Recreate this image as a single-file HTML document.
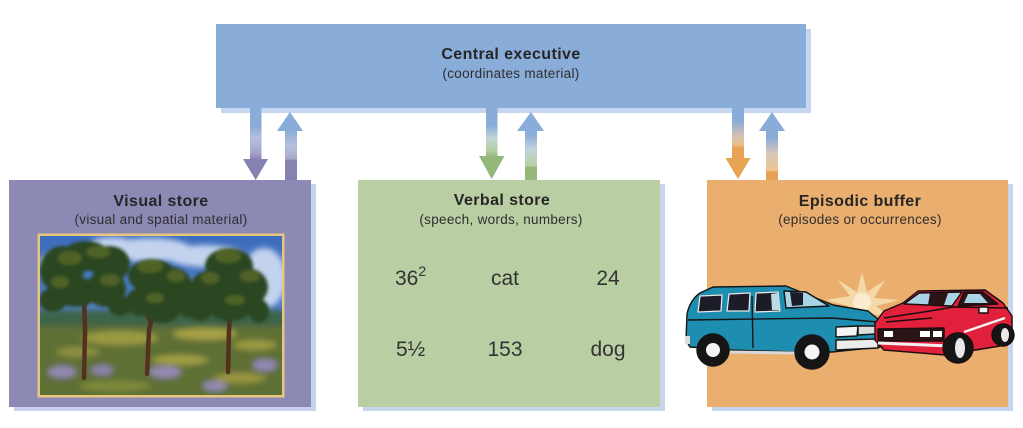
<!DOCTYPE html>
<html>
<head>
<meta charset="utf-8">
<style>
  html,body{margin:0;padding:0;background:#ffffff;}
  body{width:1023px;height:428px;overflow:hidden;}
  svg{display:block;}
  .t{font-family:"Liberation Sans",sans-serif;font-weight:bold;font-size:16px;letter-spacing:0.4px;fill:#262626;}
  .s{font-family:"Liberation Sans",sans-serif;font-size:13.5px;letter-spacing:0.3px;fill:#2e2e2e;}
  .n{font-family:"Liberation Sans",sans-serif;font-size:21px;fill:#333333;}
</style>
</head>
<body>
<svg width="1023" height="428" viewBox="0 0 1023 428" xmlns="http://www.w3.org/2000/svg">
  <defs>
    <linearGradient id="dP" gradientUnits="userSpaceOnUse" x1="0" y1="108" x2="0" y2="180">
      <stop offset="0" stop-color="#8aacd8"/>
      <stop offset="0.25" stop-color="#8aacd8"/>
      <stop offset="0.42" stop-color="#b5c1de"/>
      <stop offset="0.62" stop-color="#a6a4cc"/>
      <stop offset="0.72" stop-color="#8581b0"/>
      <stop offset="1" stop-color="#8581b0"/>
    </linearGradient>
    <linearGradient id="uP" gradientUnits="userSpaceOnUse" x1="0" y1="112" x2="0" y2="180">
      <stop offset="0" stop-color="#8aacd8"/>
      <stop offset="0.28" stop-color="#8aacd8"/>
      <stop offset="0.5" stop-color="#b7c0dc"/>
      <stop offset="0.69" stop-color="#aaa8cd"/>
      <stop offset="0.71" stop-color="#8581b0"/>
      <stop offset="1" stop-color="#8581b0"/>
    </linearGradient>
    <linearGradient id="dG" gradientUnits="userSpaceOnUse" x1="0" y1="108" x2="0" y2="180">
      <stop offset="0" stop-color="#8aacd8"/>
      <stop offset="0.24" stop-color="#8aacd8"/>
      <stop offset="0.42" stop-color="#c2d4d6"/>
      <stop offset="0.6" stop-color="#b3cd9f"/>
      <stop offset="0.68" stop-color="#93b879"/>
      <stop offset="1" stop-color="#93b879"/>
    </linearGradient>
    <linearGradient id="uG" gradientUnits="userSpaceOnUse" x1="0" y1="112" x2="0" y2="180">
      <stop offset="0" stop-color="#8aacd8"/>
      <stop offset="0.33" stop-color="#8aacd8"/>
      <stop offset="0.55" stop-color="#c3d3da"/>
      <stop offset="0.79" stop-color="#b8d0a6"/>
      <stop offset="0.81" stop-color="#93b879"/>
      <stop offset="1" stop-color="#93b879"/>
    </linearGradient>
    <linearGradient id="dO" gradientUnits="userSpaceOnUse" x1="0" y1="108" x2="0" y2="180">
      <stop offset="0" stop-color="#8aacd8"/>
      <stop offset="0.18" stop-color="#8aacd8"/>
      <stop offset="0.38" stop-color="#d2c0b8"/>
      <stop offset="0.5" stop-color="#ecc08e"/>
      <stop offset="0.56" stop-color="#e8a253"/>
      <stop offset="1" stop-color="#e8a253"/>
    </linearGradient>
    <linearGradient id="uO" gradientUnits="userSpaceOnUse" x1="0" y1="112" x2="0" y2="180">
      <stop offset="0" stop-color="#8aacd8"/>
      <stop offset="0.38" stop-color="#8aacd8"/>
      <stop offset="0.6" stop-color="#d7c6bb"/>
      <stop offset="0.86" stop-color="#efc592"/>
      <stop offset="0.88" stop-color="#e8a253"/>
      <stop offset="1" stop-color="#e8a253"/>
    </linearGradient>
    <linearGradient id="sky" x1="0" y1="0" x2="0" y2="1">
      <stop offset="0" stop-color="#3c6cbd"/>
      <stop offset="1" stop-color="#6a94d4"/>
    </linearGradient>
    <filter id="soft" x="-10%" y="-10%" width="120%" height="120%">
      <feGaussianBlur stdDeviation="1.6"/>
    </filter>
    <filter id="soft2" x="-20%" y="-20%" width="140%" height="140%">
      <feGaussianBlur stdDeviation="3"/>
    </filter>
    <clipPath id="pclip"><rect x="40" y="236" width="242" height="159"/></clipPath>
  </defs>

  <!-- shadows -->
  <rect x="221" y="29" width="590" height="84" fill="#c7d6ef"/>
  <rect x="14" y="184" width="302" height="227" fill="#c7d3ec"/>
  <rect x="363" y="184" width="302" height="227" fill="#c7d6ec"/>
  <rect x="712" y="184" width="301" height="227" fill="#c7d6ee"/>

  <!-- boxes -->
  <rect x="216" y="24" width="590" height="84" fill="#8aacd8"/>
  <rect x="9" y="180" width="302" height="227" fill="#8c89b5"/>
  <rect x="358" y="180" width="302" height="227" fill="#b9cfa3"/>
  <rect x="707" y="180" width="301" height="227" fill="#eaae6f"/>

  <!-- arrows: visual -->
  <rect x="250" y="108" width="11.5" height="53" fill="url(#dP)"/>
  <polygon points="243,159 268,159 255.7,180" fill="url(#dP)"/>
  <rect x="285" y="129" width="12" height="51" fill="url(#uP)"/>
  <polygon points="277,131 303,131 290,112" fill="url(#uP)"/>

  <!-- arrows: verbal -->
  <rect x="486" y="108" width="11.5" height="50" fill="url(#dG)"/>
  <polygon points="479,156 504.5,156 491.7,179" fill="url(#dG)"/>
  <rect x="525" y="129" width="12" height="51" fill="url(#uG)"/>
  <polygon points="517,131 544,131 531,112" fill="url(#uG)"/>

  <!-- arrows: episodic -->
  <rect x="732" y="108" width="12" height="52" fill="url(#dO)"/>
  <polygon points="725.5,158 750.5,158 738,179" fill="url(#dO)"/>
  <rect x="766" y="129" width="12" height="51" fill="url(#uO)"/>
  <polygon points="759,131 785,131 772,112" fill="url(#uO)"/>

  <!-- text -->
  <text class="t" x="511" y="59" text-anchor="middle">Central executive</text>
  <text class="s" x="511" y="78" text-anchor="middle">(coordinates material)</text>

  <text class="t" x="161" y="206" text-anchor="middle">Visual store</text>
  <text class="s" x="161" y="224" text-anchor="middle">(visual and spatial material)</text>

  <text class="t" x="502" y="205" text-anchor="middle">Verbal store</text>
  <text class="s" x="501" y="224" text-anchor="middle">(speech, words, numbers)</text>

  <text class="t" x="860" y="206" text-anchor="middle">Episodic buffer</text>
  <text class="s" x="860" y="224" text-anchor="middle">(episodes or occurrences)</text>

  <!-- verbal numbers -->
  <text class="n" x="395" y="285">36<tspan font-size="14" dy="-9">2</tspan></text>
  <text class="n" x="505" y="285" text-anchor="middle">cat</text>
  <text class="n" x="608" y="285" text-anchor="middle">24</text>
  <text class="n" x="396" y="356">5½</text>
  <text class="n" x="505" y="356" text-anchor="middle">153</text>
  <text class="n" x="608" y="356" text-anchor="middle">dog</text>

  <!-- painting -->
  <rect x="37.5" y="233.5" width="247" height="164" fill="#e7c77d"/>
  <g clip-path="url(#pclip)">
    <rect x="40" y="236" width="242" height="159" fill="url(#sky)"/>
    <g filter="url(#soft2)" fill="#c3d3ee">
      <ellipse cx="150" cy="250" rx="42" ry="12"/>
      <ellipse cx="205" cy="256" rx="38" ry="11"/>
      <ellipse cx="264" cy="278" rx="22" ry="30"/>
      <ellipse cx="112" cy="244" rx="22" ry="7"/>
      <ellipse cx="185" cy="290" rx="16" ry="8"/>
      <ellipse cx="52" cy="262" rx="12" ry="8"/>
    </g>
    <!-- ground -->
    <g filter="url(#soft2)">
      <rect x="36" y="312" width="250" height="90" fill="#5f6f36"/>
      <rect x="36" y="310" width="250" height="16" fill="#3e6448"/>
      <ellipse cx="120" cy="338" rx="38" ry="7" fill="#9a9a42"/>
      <ellipse cx="205" cy="334" rx="32" ry="6" fill="#a6a046"/>
      <ellipse cx="255" cy="345" rx="22" ry="5" fill="#9c9a42"/>
      <ellipse cx="78" cy="352" rx="22" ry="5" fill="#8c9040"/>
      <ellipse cx="180" cy="360" rx="28" ry="5" fill="#a29e44"/>
      <ellipse cx="240" cy="378" rx="26" ry="5" fill="#9a9640"/>
      <ellipse cx="115" cy="386" rx="36" ry="5" fill="#7f8a3a"/>
      <ellipse cx="62" cy="372" rx="14" ry="6" fill="#9388b2"/>
      <ellipse cx="102" cy="370" rx="11" ry="5" fill="#8d84ad"/>
      <ellipse cx="165" cy="372" rx="16" ry="6" fill="#958ab4"/>
      <ellipse cx="215" cy="386" rx="12" ry="5" fill="#958ab4"/>
      <ellipse cx="265" cy="365" rx="12" ry="6" fill="#9287b2"/>
    </g>
    <!-- trunks -->
    <g stroke="#55301f" stroke-linecap="round" fill="none">
      <path d="M84,378 L85,330 L84,295" stroke-width="4.5"/>
      <path d="M84,300 L74,288 M85,305 L98,290" stroke-width="2.5"/>
      <path d="M147,374 L149,330 L152,318" stroke-width="4.5"/>
      <path d="M150,322 L138,300 M151,318 L168,300" stroke-width="2.5"/>
      <path d="M228,372 L229,330 L230,318" stroke-width="4.5"/>
      <path d="M229,322 L214,304 M230,318 L244,300" stroke-width="2.5"/>
    </g>
    <!-- canopies -->
    <g filter="url(#soft)">
      <g fill="#2c4622">
        <ellipse cx="62" cy="270" rx="22" ry="24"/>
        <ellipse cx="86" cy="256" rx="24" ry="15"/>
        <ellipse cx="110" cy="264" rx="20" ry="18"/>
        <ellipse cx="76" cy="292" rx="22" ry="15"/>
        <ellipse cx="106" cy="289" rx="20" ry="18"/>
        <ellipse cx="53" cy="300" rx="14" ry="12"/>
        <ellipse cx="120" cy="306" rx="12" ry="10"/>
        <ellipse cx="152" cy="276" rx="24" ry="17"/>
        <ellipse cx="172" cy="286" rx="20" ry="19"/>
        <ellipse cx="141" cy="302" rx="16" ry="14"/>
        <ellipse cx="162" cy="308" rx="19" ry="15"/>
        <ellipse cx="188" cy="303" rx="11" ry="15"/>
        <ellipse cx="229" cy="266" rx="24" ry="18"/>
        <ellipse cx="209" cy="288" rx="19" ry="17"/>
        <ellipse cx="247" cy="287" rx="21" ry="19"/>
        <ellipse cx="230" cy="307" rx="22" ry="14"/>
        <ellipse cx="200" cy="311" rx="12" ry="10"/>
        <ellipse cx="259" cy="311" rx="10" ry="12"/>
      </g>
      <g fill="#56682a" opacity="0.85">
        <ellipse cx="70" cy="258" rx="12" ry="7"/>
        <ellipse cx="98" cy="252" rx="12" ry="6"/>
        <ellipse cx="60" cy="282" rx="9" ry="6"/>
        <ellipse cx="110" cy="280" rx="10" ry="6"/>
        <ellipse cx="150" cy="266" rx="13" ry="7"/>
        <ellipse cx="176" cy="276" rx="9" ry="6"/>
        <ellipse cx="155" cy="298" rx="9" ry="5"/>
        <ellipse cx="228" cy="256" rx="13" ry="7"/>
        <ellipse cx="210" cy="278" rx="9" ry="6"/>
        <ellipse cx="250" cy="276" rx="10" ry="6"/>
        <ellipse cx="235" cy="300" rx="10" ry="5"/>
      </g>
    </g>
  </g>

  <!-- starburst -->
  <polygon points="862,272 867,292 885,280 874,298 900,300 876,306 892,318 868,313 862,330 856,313 834,322 848,306 826,300 850,296 838,280 857,292" fill="#f4d8a8"/>
  <circle cx="862" cy="302" r="9" fill="#fbecd0"/>

  <!-- blue SUV -->
  <g stroke="#151515" stroke-width="1.4" stroke-linejoin="round">
    <path d="M686,340 L687,314 Q690,300 700,293 L713,287 L786,286 L833,305 L868,311 L879,320 L880,347 L832,352 L795,352 L730,350 L690,347 Z" fill="#1d8db0"/>
    <path d="M700,296 L722,295 L721,311 L698,312 Z" fill="#1c1c28" stroke="#e8e8e8" stroke-width="1.3"/>
    <path d="M729,294 L750,293 L749,311 L727,311 Z" fill="#1c1c28" stroke="#e8e8e8" stroke-width="1.3"/>
    <path d="M756,293 L778,292 L780,311 L755,312 Z" fill="#1c1c28" stroke="#e8e8e8" stroke-width="1.3"/>
    <path d="M771,294 L778,293 L780,310 L772,310 Z" fill="#b9dbe6" stroke="none"/>
    <path d="M784,291 L806,292 L829,306 L786,308 Z" fill="#a8d5e6"/>
    <path d="M790,292 L803,293 L803,305 L792,306 Z" fill="#1c1c28" stroke="none"/>
    <path d="M688,320 L832,318 L878,322" fill="none"/>
    <path d="M752,296 L753,348" fill="none"/>
    <path d="M836,327 L858,326 L857,336 L836,337 Z" fill="#f4f4f4"/>
    <path d="M858,326 L876,326 L876,334 L858,335 Z" fill="#dcdcdc"/>
    <path d="M836,340 L878,339 L878,348 L836,350 Z" fill="#ececec"/>
    <path d="M730,352 L795,353" stroke="#d8d8d8" stroke-width="3" fill="none"/>
    <circle cx="713" cy="350" r="16" fill="#151515"/>
    <circle cx="812" cy="352" r="17" fill="#151515"/>
  </g>
  <g fill="#f5f5f5">
    <circle cx="713" cy="350" r="7"/>
    <circle cx="812" cy="352" r="7.5"/>
  </g>
  <rect x="685" y="336" width="5" height="8" fill="#dcdcdc"/>

  <!-- red car -->
  <g stroke="#1a0d10" stroke-width="1.4" stroke-linejoin="round">
    <path d="M875,323 L884,311 L903,303 L918,291 L985,290 L1003,303 L1012,316 L1012,338 L1000,346 L945,355 L884,350 L875,340 Z" fill="#e1213b"/>
    <path d="M904,304 L919,293 L962,292 L952,306 Z" fill="#a8d4e6"/>
    <path d="M930,293 L948,293 L944,305 L928,305 Z" fill="#2a1416" stroke="none"/>
    <path d="M964,292 L983,292 L998,304 L958,306 Z" fill="#2a1416"/>
    <path d="M968,294 L980,294 L988,303 L964,303 Z" fill="#a8d4e6" stroke="none"/>
    <path d="M884,318 L930,311 L953,307 L1008,308" fill="none"/>
    <path d="M886,322 L932,318" fill="none"/>
    <path d="M878,329 L944,328 L944,341 L878,341 Z" fill="#2a1416"/>
    <rect x="884" y="331" width="9" height="6" fill="#ffffff" stroke="none"/>
    <rect x="920" y="331" width="10" height="6" fill="#ffffff" stroke="none"/>
    <rect x="933" y="331" width="9" height="6" fill="#ffffff" stroke="none"/>
    <path d="M878,343 L950,346" stroke="#f0f0f0" stroke-width="3" fill="none"/>
    <path d="M964,332 L1005,318" stroke="#f2f2f2" stroke-width="2.5" fill="none"/>
    <rect x="979" y="307" width="9" height="6" fill="#f2f2f2"/>
    <circle cx="958" cy="348" r="15" fill="#151515"/>
    <circle cx="1003" cy="335" r="11" fill="#151515"/>
  </g>
  <g fill="#e8e8e8">
    <ellipse cx="960" cy="348" rx="5" ry="10"/>
    <ellipse cx="1005" cy="335" rx="4" ry="7"/>
  </g>
</svg>
</body>
</html>
